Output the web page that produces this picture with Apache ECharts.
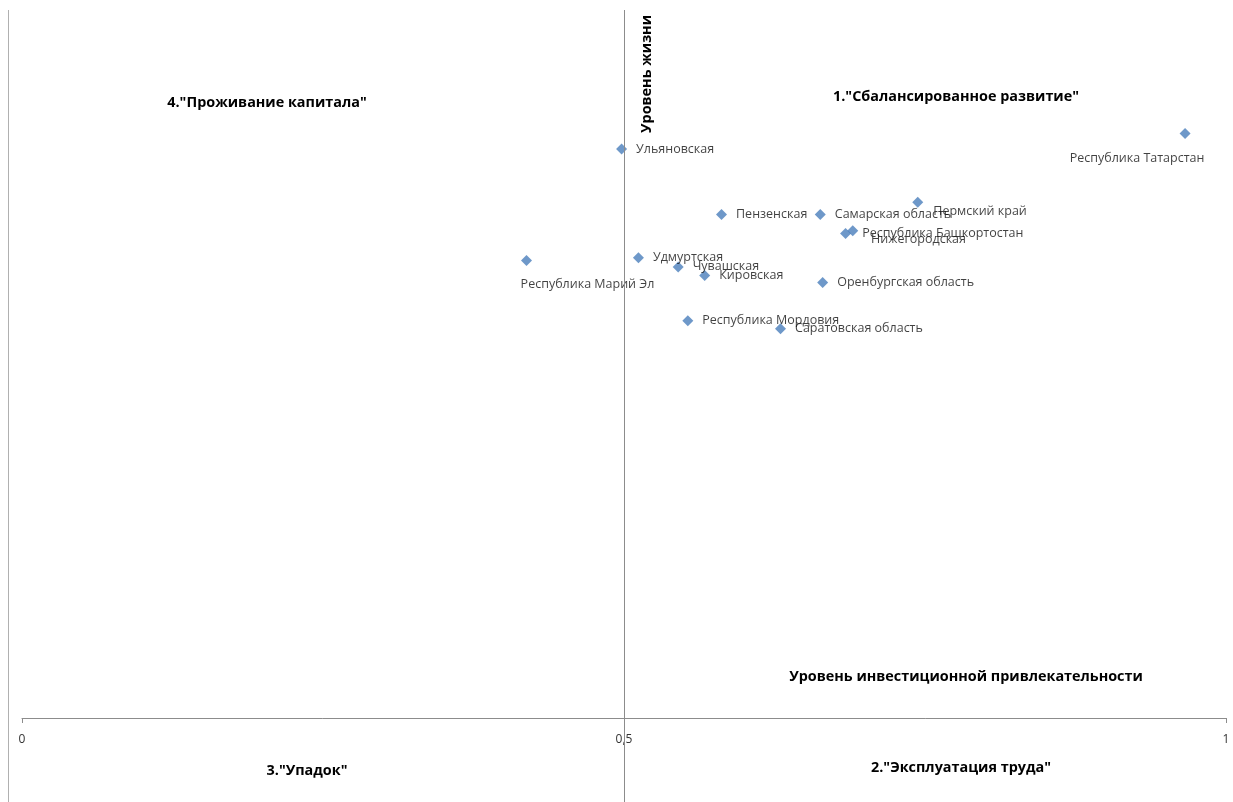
<!DOCTYPE html>
<html><head><meta charset="utf-8">
<script src="https://cdn.jsdelivr.net/npm/echarts@6/dist/echarts.min.js"></script>
<style>html,body{margin:0;padding:0;background:#fff}#c{width:1233px;height:802px}</style>
</head><body><div id="c"></div>
<script>
var regions = ["Республика Татарстан","Ульяновская","Пермский край","Пензенская","Самарская область","Республика Башкортостан","Нижегородская","Удмуртская","Республика Марий Эл","Чувашская","Кировская","Оренбургская область","Республика Мордовия","Саратовская область"];
var investX = [0.966,0.498,0.744,0.581,0.663,0.690,0.684,0.512,0.419,0.545,0.567,0.665,0.553,0.630];
var lifeY   = [0.826,0.804,0.729,0.712,0.712,0.689,0.685,0.651,0.647,0.638,0.626,0.616,0.562,0.551];
var xTicks = [0, 0.5, 1];
var xTickLabels = ["0","0,5","1"];

var F = "'Open Sans', 'Noto Sans', sans-serif";
var labelPlace = {
  "Республика Татарстан": {position:'bottom', distance:13, offset:[-48,0]},
  "Республика Марий Эл": {position:'bottom', distance:12, offset:[61,0]},
  "Нижегородская": {position:'right', distance:20, offset:[0,6]},
  "Пермский край": {position:'right', distance:10, offset:[0,9]},
  "Республика Башкортостан": {position:'right', distance:4, offset:[0,3]}
};
var pts = regions.map(function(n,i){
  var d = {name:n, value:[investX[i], lifeY[i]]};
  if (labelPlace[n]) d.label = labelPlace[n];
  return d;
});
var chart = echarts.init(document.getElementById('c'));
var bold = {fontFamily:F, fontWeight:'bold', fontSize:14.4, fill:'#000'};
function T(x,y,t,extra){ var s = Object.assign({text:t, textAlign:'center', textVerticalAlign:'middle'}, bold); return Object.assign({type:'text', x:x, y:y, style:s, z:100}, extra||{}); }
chart.setOption({
  animation:false,
  grid:{left:22, right:7, top:10, bottom:0, containLabel:false, outerBoundsMode:'none'},
  xAxis:{type:'value', min:xTicks[0], max:xTicks[xTicks.length-1], interval:0.5,
    position:'bottom', offset:-84,
    axisLine:{onZero:false, lineStyle:{color:'#8c8c8c', width:1}},
    axisTick:{show:true, length:5, lineStyle:{color:'#8c8c8c'}},
    splitLine:{show:false},
    axisLabel:{margin:16, color:'#333', fontFamily:F, fontSize:12,
      formatter:function(v){ var i = xTicks.indexOf(v); return i>=0 ? xTickLabels[i] : ''; }}
  },
  yAxis:{type:'value', min:-0.116, max:1, show:false, splitLine:{show:false}},
  graphic:[
    {type:'line', shape:{x1:8.5,y1:10,x2:8.5,y2:802}, style:{stroke:'#b0b0b0', lineWidth:1}},
    T(267,103,'4."Проживание капитала"'),
    T(956,97,'1."Сбалансированное развитие"'),
    T(966,677,'Уровень инвестиционной привлекательности'),
    T(307,771,'3."Упадок"'),
    T(961,768,'2."Эксплуатация труда"'),
    T(647,74,'Уровень жизни',{rotation:Math.PI/2})
  ],
  series:[{
    type:'scatter', symbol:'diamond', symbolSize:11,
    itemStyle:{color:'#4A7EBB'},
    data:pts,
    label:{show:true, position:'right', distance:9, formatter:'{b}', color:'#111', fontFamily:F, fontSize:12.5},
    markLine:{silent:true, symbol:['none','none'], label:{show:false},
      lineStyle:{color:'#8c8c8c', type:'solid', width:1},
      data:[{xAxis:0.5}]}
  }]
});
</script></body></html>
